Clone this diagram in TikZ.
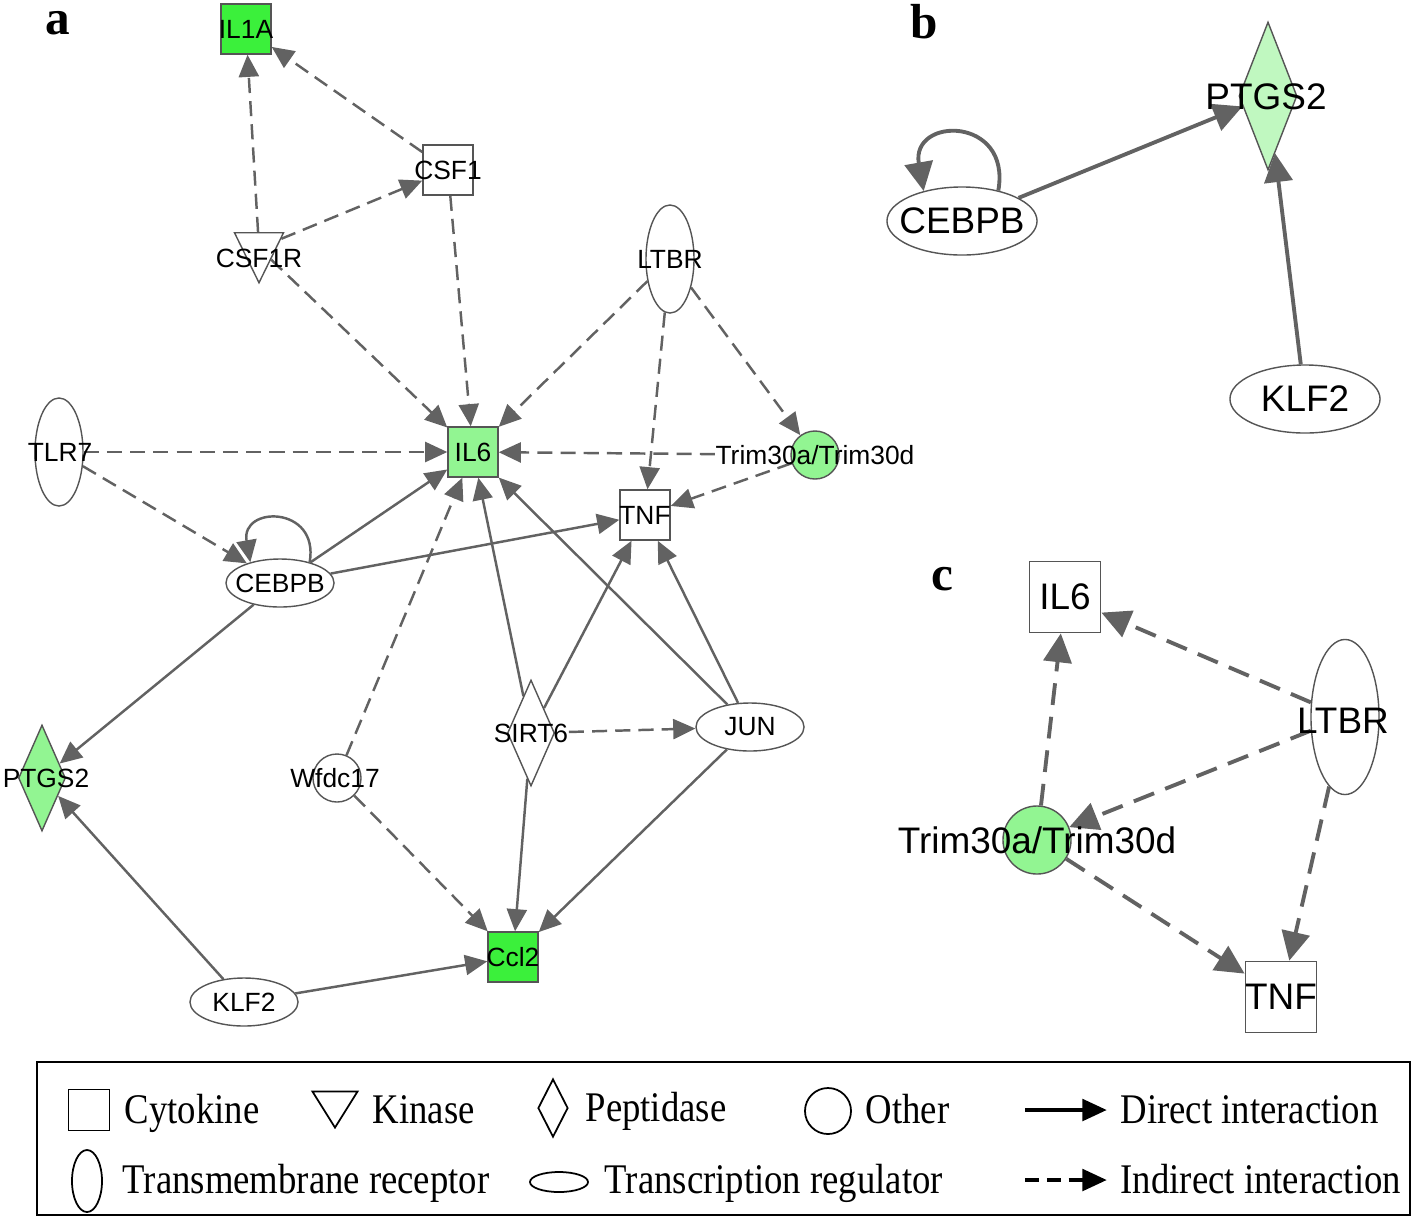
\documentclass[tikz,border=0pt]{standalone}
\usepackage{fontspec}
\setmainfont{Liberation Sans}
\newfontfamily\legendfont[FakeStretch=0.87]{Liberation Serif}
\newfontfamily\panelfont{Liberation Serif}
\usetikzlibrary{shapes, shapes.geometric, arrows.meta, backgrounds, positioning}
\definecolor{upgreen}{HTML}{3BF03B}
\definecolor{midgreen}{HTML}{92F592}
\definecolor{palegreen}{HTML}{C0F8C0}
\definecolor{edgegray}{HTML}{626262}
\definecolor{bordergray}{HTML}{555555}

\begin{document}
\begin{tikzpicture}[x=0.01cm, y=-0.01cm, font=\fontsize{7.5}{9}\selectfont,
    gene/.style={draw=bordergray, line width=0.4pt, inner sep=0pt, fill=white},
    cytok/.style={gene, rectangle, minimum size=0.5cm},
    tmrec/.style={gene, ellipse, minimum width=0.48cm, minimum height=1.08cm},
    treg/.style={gene, ellipse, minimum width=1.08cm, minimum height=0.48cm},
    pept/.style={gene, diamond, minimum width=0.47cm, minimum height=1.06cm},
    kinase/.style={gene, isosceles triangle, shape border rotate=-90,
      isosceles triangle stretches, minimum width=0.49cm, minimum height=0.5cm},
    other/.style={gene, circle, minimum size=0.48cm},
    genetxt/.style={inner sep=0pt, font=\fontsize{7.5}{9}\selectfont},
    bigtxt/.style={inner sep=0pt, font=\fontsize{10.5}{12}\selectfont},
    direct/.style={draw=edgegray, line width=0.7pt, -{Triangle[length=6.3pt, width=5.7pt]}},
    indirect/.style={direct, dash pattern=on 4.3pt off 2.3pt},
    bigdirect/.style={draw=edgegray, line width=1.1pt, -{Triangle[length=8.2pt, width=8pt]}},
    bigindirect/.style={bigdirect, dash pattern=on 6.2pt off 3.4pt},
    panel/.style={font=\panelfont\bfseries\fontsize{14}{16}\selectfont, inner sep=0pt, anchor=base west},
    legtxt/.style={font=\legendfont\fontsize{12}{14}\selectfont, inner sep=0pt, anchor=base west},
    legsym/.style={draw=black, line width=0.5pt, inner sep=0pt}]
    \useasboundingbox (0,0) rectangle (1418,1220);

    % panel a
    \node[panel] (labA) at (45,34) {a};
    \node[cytok, fill=upgreen] (il1aA) at (246,29) {};
    \node[cytok] (csf1A) at (448,170) {};
    \node[kinase] (csf1rA) at (259,248) {};
    \node[tmrec] (ltbrA) at (670,259) {};
    \node[tmrec] (tlr7A) at (59,452) {};
    \node[cytok, fill=midgreen] (il6A) at (473,452) {};
    \node[other, fill=midgreen] (trimA) at (815,455) {};
    \node[cytok] (tnfA) at (645,515) {};
    \node[treg] (cebpbA) at (280,583) {};
    \node[pept, fill=midgreen] (ptgsA) at (42,778) {};
    \node[other] (wfdcA) at (337,778) {};
    \node[pept] (sirtA) at (531,733) {};
    \node[treg] (junA) at (750,727) {};
    \node[cytok, fill=upgreen] (ccl2A) at (513,957) {};
    \node[treg] (klfA) at (244,1002) {};

    \node[genetxt] (il1aAtxt) at (il1aA) {IL1A};
    \node[genetxt] (csf1Atxt) at (csf1A) {CSF1};
    \node[genetxt] (csf1rAtxt) at (259,258) {CSF1R};
    \node[genetxt] (ltbrAtxt) at (ltbrA) {LTBR};
    \node[genetxt] (tlr7Atxt) at (60,452) {TLR7};
    \node[genetxt] (il6Atxt) at (il6A) {IL6};
    \node[genetxt] (trimAtxt) at (trimA) {Trim30a/Trim30d};
    \node[genetxt] (tnfAtxt) at (tnfA) {TNF};
    \node[genetxt] (cebpbAtxt) at (cebpbA) {CEBPB};
    \node[genetxt] (ptgsAtxt) at (46,778) {PTGS2};
    \node[genetxt] (wfdcAtxt) at (335,778) {Wfdc17};
    \node[genetxt] (sirtAtxt) at (sirtA) {SIRT6};
    \node[genetxt] (junAtxt) at (junA) {JUN};
    \node[genetxt] (ccl2Atxt) at (ccl2A) {Ccl2};
    \node[genetxt] (klfAtxt) at (klfA) {KLF2};

    \begin{scope}[on background layer]
      \draw[indirect] (csf1rA) -- (il1aA);
      \draw[indirect] (csf1A) -- (il1aA);
      \draw[indirect] (csf1rA) -- (csf1A);
      \draw[indirect] (csf1rA) -- (il6A);
      \draw[indirect] (csf1A) -- (il6A);
      \draw[indirect] (ltbrA) -- (il6A);
      \draw[indirect] (ltbrA) -- (tnfA);
      \draw[indirect] (ltbrA) -- (trimA);
      \draw[indirect] (tlr7A) -- (il6A);
      \draw[indirect] (tlr7A) -- (cebpbA);
      \draw[indirect] (trimAtxt) -- (il6A);
      \draw[indirect] (trimA) -- (tnfA);
      \draw[indirect] (wfdcA) -- (il6A);
      \draw[indirect] (wfdcA) -- (ccl2A);
      \draw[indirect] (sirtAtxt) -- (junA);
      \draw[direct] (cebpbA.35) to[out=80, in=100, looseness=2.5] (cebpbA.145);
      \draw[direct] (cebpbA) -- (il6A);
      \draw[direct] (cebpbA) -- (tnfA);
      \draw[direct] (cebpbA) -- (ptgsA);
      \draw[direct] (sirtA) -- (il6A);
      \draw[direct] (sirtA) -- (tnfA);
      \draw[direct] (sirtA) -- (ccl2A);
      \draw[direct] (junA) -- (il6A);
      \draw[direct] (junA) -- (tnfA);
      \draw[direct] (junA) -- (ccl2A);
      \draw[direct] (klfA) -- (ptgsA);
      \draw[direct] (klfA) -- (ccl2A);
    \end{scope}

    % panel b
    \node[panel] (labB) at (910,38) {b};
    \node[gene, diamond, fill=palegreen, minimum width=0.58cm, minimum height=1.48cm] (ptgsB) at (1268,96) {};
    \node[gene, ellipse, minimum width=1.5cm, minimum height=0.68cm] (cebpbB) at (962,221) {};
    \node[gene, ellipse, minimum width=1.5cm, minimum height=0.68cm] (klfB) at (1305,399) {};
    \node[bigtxt] (ptgsBtxt) at (1266,97) {PTGS2};
    \node[bigtxt] (cebpbBtxt) at (cebpbB) {CEBPB};
    \node[bigtxt] (klfBtxt) at (klfB) {KLF2};
    \begin{scope}[on background layer]
      \draw[bigdirect] (cebpbB.40) to[out=80, in=100, looseness=2.6] (cebpbB.142);
      \draw[bigdirect] (cebpbB) -- (ptgsB);
      \draw[bigdirect] (klfB) -- (ptgsB);
    \end{scope}

    % panel c
    \node[panel] (labC) at (931,590) {c};
    \node[gene, rectangle, line width=0.5pt, minimum size=0.71cm] (il6C) at (1065,597) {};
    \node[gene, ellipse, minimum width=0.68cm, minimum height=1.55cm] (ltbrC) at (1345,717) {};
    \node[gene, circle, fill=midgreen, minimum size=0.68cm] (trimC) at (1037,840) {};
    \node[gene, rectangle, line width=0.5pt, minimum size=0.71cm] (tnfC) at (1281,997) {};
    \node[bigtxt] (il6Ctxt) at (il6C) {IL6};
    \node[bigtxt] (ltbrCtxt) at (1343,721) {LTBR};
    \node[bigtxt] (trimCtxt) at (trimC) {Trim30a/Trim30d};
    \node[bigtxt] (tnfCtxt) at (tnfC) {TNF};
    \begin{scope}[on background layer]
      \draw[bigindirect] (trimC) -- (il6C);
      \draw[bigindirect] (ltbrC) -- (il6C);
      \draw[bigindirect] (ltbrC) -- (trimC);
      \draw[bigindirect] (ltbrC) -- (tnfC);
      \draw[bigindirect] (trimC) -- (tnfC);
    \end{scope}

    % legend
    \draw[line width=0.7pt] (37,1062) rectangle (1410,1215);
    \node[legsym, rectangle, minimum size=0.41cm] (legcyt) at (89,1110) {};
    \node[legtxt] (legcyttxt) at (124,1123) {Cytokine};
    \node[legsym, isosceles triangle, shape border rotate=-90, isosceles triangle stretches,
      minimum width=0.45cm, minimum height=0.36cm] (legkin) at (335,1104) {};
    \node[legtxt] (legkintxt) at (372,1123) {Kinase};
    \node[legsym, diamond, minimum width=0.30cm, minimum height=0.58cm] (legpep) at (553,1108) {};
    \node[legtxt] (legpeptxt) at (585,1121) {Peptidase};
    \node[legsym, circle, minimum size=0.46cm] (legoth) at (828,1111) {};
    \node[legtxt] (legothtxt) at (865,1123) {Other};
    \coordinate (legdirS) at (1025,1110);
    \coordinate (legdirE) at (1107,1110);
    \draw[line width=1.4pt, -{Triangle[length=7pt, width=6pt]}] (legdirS) -- (legdirE);
    \node[legtxt] (legdirtxt) at (1120,1123) {Direct interaction};

    \node[legsym, ellipse, minimum width=0.30cm, minimum height=0.62cm] (legtmr) at (87,1181) {};
    \node[legtxt] (legtmrtxt) at (122,1193) {Transmembrane receptor};
    \node[legsym, ellipse, minimum width=0.58cm, minimum height=0.20cm] (legtrg) at (559,1182) {};
    \node[legtxt] (legtrgtxt) at (604,1193) {Transcription regulator};
    \coordinate (legindS) at (1025,1180);
    \coordinate (legindE) at (1107,1180);
    \draw[line width=1.4pt, dash pattern=on 4pt off 2.2pt, -{Triangle[length=7pt, width=6pt]}] (legindS) -- (legindE);
    \node[legtxt] (legindtxt) at (1120,1193) {Indirect interaction};
  \end{tikzpicture}
\end{document}
